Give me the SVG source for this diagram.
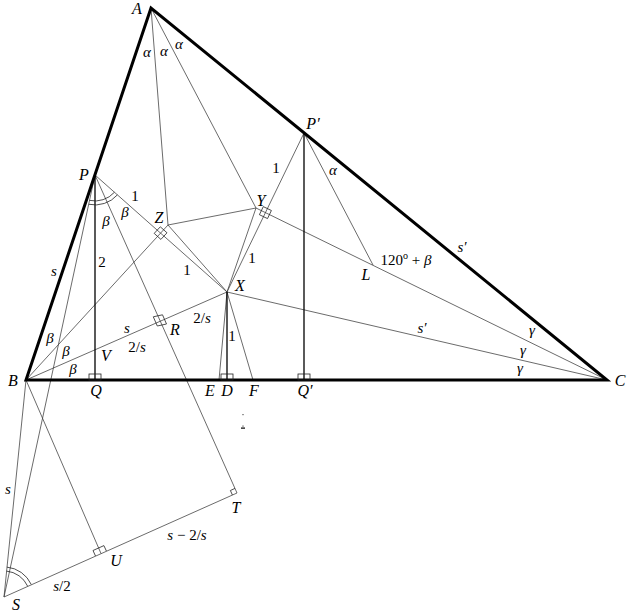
<svg xmlns="http://www.w3.org/2000/svg" width="632" height="614" viewBox="0 0 632 614">
<style>
.thin{stroke:#3a3a3a;stroke-width:0.75;fill:none}
.med{stroke:#000;stroke-width:1.3;fill:none}
.thick{stroke:#000;stroke-width:3;fill:none;stroke-linejoin:miter}
.mark{stroke:#222;stroke-width:0.8;fill:none}
text{font-family:"Liberation Serif","DejaVu Serif",serif;font-style:italic;font-size:16px;text-anchor:middle;dominant-baseline:central;fill:#000}
.n{font-style:normal}
.g{font-size:15px}
.sm{font-size:15px}
</style>
<rect width="632" height="614" fill="#fff"/>
<g id="connectors">
<line class="thin" x1="151" y1="8" x2="168" y2="225"/>
<line class="thin" x1="151" y1="8" x2="256" y2="208"/>
<line class="thin" x1="168" y1="225" x2="256" y2="208"/>
<line class="thin" x1="168" y1="225" x2="227" y2="292"/>
<line class="thin" x1="256" y1="208" x2="227" y2="292"/>
<line class="thin" x1="95" y1="175" x2="227" y2="292"/>
<line class="thin" x1="304" y1="133" x2="227" y2="292"/>
<line class="thin" x1="304" y1="133" x2="373" y2="265"/>
<line class="thin" x1="256" y1="208" x2="607" y2="380"/>
<line class="thin" x1="227" y1="292" x2="607" y2="380"/>
<line class="thin" x1="26" y1="380" x2="227" y2="292"/>
<line class="thin" x1="26" y1="380" x2="168" y2="225"/>
<line class="thin" x1="227" y1="292" x2="219" y2="380"/>
<line class="thin" x1="227" y1="292" x2="253" y2="380"/>
<line class="thin" x1="95" y1="175" x2="237" y2="493"/>
<line class="thin" x1="4" y1="597" x2="95" y2="175"/>
<line class="thin" x1="4" y1="597" x2="26" y2="380"/>
<line class="thin" x1="26" y1="380" x2="101" y2="553.5"/>
<line class="thin" x1="4" y1="597" x2="237" y2="493"/>
<line class="med" x1="95" y1="175" x2="95" y2="380"/>
<line class="med" x1="227" y1="292" x2="227" y2="380"/>
<line class="med" x1="304" y1="133" x2="304" y2="380"/>
</g>
<g id="triangle">
<polygon class="thick" points="151,8 26,380 607,380"/>
</g>
<g id="marks">
<rect class="mark" x="89" y="374" width="12" height="6"/>
<rect class="mark" x="221" y="374" width="12" height="6"/>
<rect class="mark" x="298" y="374" width="12" height="6"/>
<polygon class="mark" points="166.5,324 162.5,314.8 153.3,316.8 157.3,326"/>
<polygon class="mark" points="167,232.8 160.9,239.4 154.2,233.4 160.3,226.8"/>
<polygon class="mark" points="267.5,218.6 259.4,214.7 263.3,206.6 271.4,210.5"/>
<polyline class="mark" points="95.5,556 93,550.5 103.9,545.6 106.4,551"/>
<polyline class="mark" points="232.4,495 230.4,490.5 235,488.4"/>
<path class="mark" d="M89.6,200.4 A26,26 0 0 0 114.4,192.3"/>
<path class="mark" d="M88.8,204.3 A30,30 0 0 0 117.4,194.9"/>
<path class="mark" d="M6.5,571.1 A26,26 0 0 1 27.6,586.1"/>
<path class="mark" d="M6.9,567.1 A30,30 0 0 1 31.2,584.4"/>
<rect x="242" y="414" width="2" height="1.2" fill="#999"/>
<rect x="242" y="425.5" width="2" height="1.2" fill="#999"/>
<rect x="241" y="427.5" width="4" height="1.2" fill="#000"/>
</g>
<g id="node-A"><text x="137" y="8">A</text></g>
<g id="node-B"><text x="13" y="380">B</text></g>
<g id="node-C"><text x="620" y="380">C</text></g>
<g id="node-P"><text x="84" y="174">P</text></g>
<g id="node-P2"><text x="313" y="123">P′</text></g>
<g id="node-Z"><text x="159" y="217">Z</text></g>
<g id="node-Y"><text x="261" y="200">Y</text></g>
<g id="node-X"><text x="240" y="285">X</text></g>
<g id="node-L"><text x="366" y="274">L</text></g>
<g id="node-Q"><text x="96" y="390">Q</text></g>
<g id="node-E"><text x="210" y="390">E</text></g>
<g id="node-D"><text x="227" y="390">D</text></g>
<g id="node-F"><text x="254" y="390">F</text></g>
<g id="node-Q2"><text x="305" y="390">Q′</text></g>
<g id="node-V"><text x="106" y="355">V</text></g>
<g id="node-R"><text x="175" y="329">R</text></g>
<g id="node-T"><text x="236" y="507">T</text></g>
<g id="node-U"><text x="116" y="560">U</text></g>
<g id="node-S"><text x="16" y="604">S</text></g>
<g id="labels">
<text class="g" x="147" y="52">α</text>
<text class="g" x="164" y="51">α</text>
<text class="g" x="179" y="44">α</text>
<text class="g" x="333" y="170">α</text>
<text class="g" x="106" y="221">β</text>
<text class="g" x="125" y="212">β</text>
<text class="g" x="50" y="338">β</text>
<text class="g" x="66" y="351">β</text>
<text class="g" x="73" y="369">β</text>
<text class="g" x="532" y="330">γ</text>
<text class="g" x="523" y="350">γ</text>
<text class="g" x="520" y="368">γ</text>
<text class="n sm" x="135" y="196">1</text>
<text class="n sm" x="187" y="270">1</text>
<text class="n sm" x="276" y="168">1</text>
<text class="n sm" x="252" y="258">1</text>
<text class="n sm" x="232" y="336">1</text>
<text class="n sm" x="102" y="262">2</text>
<text class="sm" x="54" y="271">s</text>
<text class="sm" x="127" y="328">s</text>
<text class="sm" x="8" y="489">s</text>
<text class="sm" x="462" y="247">s′</text>
<text class="sm" x="422" y="328">s′</text>
<text class="sm" x="137" y="347"><tspan class="n">2/</tspan>s</text>
<text class="sm" x="202" y="318"><tspan class="n">2/</tspan>s</text>
<text class="sm" x="62" y="586">s<tspan class="n">/2</tspan></text>
<text class="sm" x="187" y="535">s<tspan class="n"> − 2/</tspan>s</text>
<text class="sm" x="406" y="260"><tspan class="n">120</tspan><tspan class="n" font-size="10" dy="-5">o</tspan><tspan class="n" dy="5"> + </tspan>β</text>
</g>
</svg>
